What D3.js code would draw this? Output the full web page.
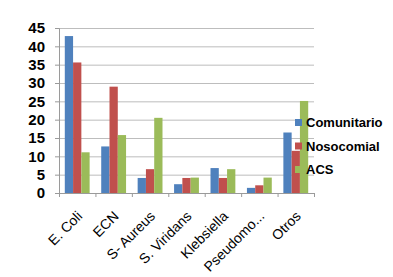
<!DOCTYPE html>
<html>
<head>
<meta charset="utf-8">
<script src="https://cdn.jsdelivr.net/npm/d3@7"></script>
<style>
  body { margin: 0; background: #fff; }
  svg { display: block; }
</style>
</head>
<body>
<div id="chart"></div>
<script>
// categories and series
var categories = ["E. Coli", "ECN", "S- Aureus", "S. Viridans", "Klebsiella", "Pseudomo...", "Otros"];
var seriesNames = ["Comunitario", "Nosocomial", "ACS"];
var comunitario = [42.8, 12.7, 4.1, 2.4, 6.8, 1.4, 16.5];
var nosocomial = [35.6, 29.0, 6.5, 4.1, 4.1, 2.1, 11.5];
var acs = [11.1, 15.8, 20.5, 4.2, 6.5, 4.2, 25.1];
var yTicks = [0, 5, 10, 15, 20, 25, 30, 35, 40, 45];
var colors = ["#4f81bd", "#c0504d", "#9bbb59"];

var width = 393, height = 277;
var margin = {top: 28, right: 79, bottom: 84, left: 59};

let svg = d3.select("#chart")
    .append("svg")
    .attr("width", width)
    .attr("height", height);

var xScale = d3.scaleBand()
    .domain(categories)
    .range([margin.left, width - margin.right])
    .paddingInner(0)
    .paddingOuter(0);

var yScale = d3.scaleLinear()
    .domain([0, 45])
    .range([height - margin.bottom, margin.top]);

var inner = d3.scaleBand()
    .domain(seriesNames)
    .range([0, xScale.bandwidth()])
    .paddingInner(0)
    .paddingOuter(0.7);

// gridlines
svg.append("g")
    .selectAll("line")
    .data(yTicks.slice(1))
    .join("line")
    .attr("x1", margin.left)
    .attr("x2", width - margin.right)
    .attr("y1", d => yScale(d) + 0.5)
    .attr("y2", d => yScale(d) + 0.5)
    .attr("stroke", "#bdbdbd")
    .attr("stroke-width", 1);

// bars
var rows = categories.map((c, i) => ({cat: c, vals: [comunitario[i], nosocomial[i], acs[i]]}));
svg.append("g")
    .selectAll("g")
    .data(rows)
    .join("g")
    .attr("transform", d => "translate(" + xScale(d.cat) + ",0)")
    .selectAll("rect")
    .data(d => d.vals.map((v, j) => ({name: seriesNames[j], v: v, j: j})))
    .join("rect")
    .attr("x", d => inner(d.name))
    .attr("width", inner.bandwidth())
    .attr("y", d => yScale(d.v))
    .attr("height", d => yScale(0) - yScale(d.v))
    .attr("fill", d => colors[d.j]);

// y axis
let yAxis = svg.append("g")
    .attr("transform", "translate(" + margin.left + ",0)")
    .call(d3.axisLeft(yScale).tickValues(yTicks).tickSize(4).tickPadding(10));
yAxis.select(".domain").attr("stroke", "#9a9a9a");
yAxis.selectAll(".tick line").attr("stroke", "#9a9a9a");
yAxis.selectAll("text")
    .attr("font-family", "Liberation Sans, Arial, sans-serif")
    .attr("font-size", 15)
    .attr("font-weight", "bold")
    .attr("fill", "#000");

// x axis
let xAxis = svg.append("g")
    .attr("transform", "translate(0," + yScale(0) + ")")
    .call(d3.axisBottom(xScale).tickSize(0).tickSizeOuter(0));
xAxis.select(".domain").attr("stroke", "#9a9a9a");
xAxis.selectAll("text")
    .attr("font-family", "Liberation Sans, Arial, sans-serif")
    .attr("font-size", 14)
    .attr("fill", "#000")
    .attr("text-anchor", "end")
    .attr("dy", null)
    .attr("y", 0)
    .attr("transform", "translate(6,24) rotate(-45)");

// category boundary ticks
svg.append("g")
    .selectAll("line")
    .data(categories.concat(["end"]))
    .join("line")
    .attr("x1", (d, i) => margin.left + i * xScale.bandwidth() + 0.5)
    .attr("x2", (d, i) => margin.left + i * xScale.bandwidth() + 0.5)
    .attr("y1", yScale(0))
    .attr("y2", yScale(0) + 4)
    .attr("stroke", "#9a9a9a");

// legend
let legend = svg.append("g")
    .attr("transform", "translate(295,119)");
seriesNames.forEach(function(name, i) {
  legend.append("rect")
      .attr("x", 0)
      .attr("y", i * 23.5)
      .attr("width", 7)
      .attr("height", 7)
      .attr("fill", colors[i]);
  legend.append("text")
      .attr("x", 11)
      .attr("y", i * 23.5 + 8)
      .attr("font-family", "Liberation Sans, Arial, sans-serif")
      .attr("font-size", 13)
      .attr("font-weight", "bold")
      .attr("fill", "#000")
      .text(name);
});
</script>
</body>
</html>
